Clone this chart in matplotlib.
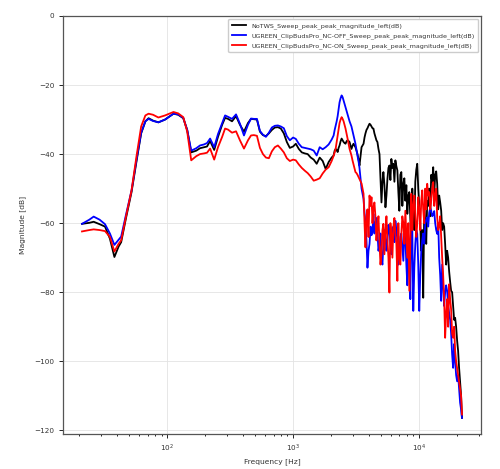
import numpy as np
import matplotlib
matplotlib.use('Agg')
import matplotlib.pyplot as plt

# frequency points [Hz] shared by the three measurements
freq_low = [21, 24, 26, 29, 32, 35, 38, 41, 43, 47, 52, 57, 62, 67, 71, 77, 85, 96,
            112, 122, 134, 144, 155, 170, 182, 196, 207, 219, 236, 253, 273, 288,
            304, 327, 352, 378, 407, 438, 463, 488, 516, 545, 576, 608, 642, 678,
            716, 757, 799, 844, 892, 942, 1000, 1051, 1110, 1172, 1238, 1306, 1381,
            1458, 1540, 1627, 1719, 1815, 1917, 2025]
freq_high = [2100, 2180, 2260, 2340, 2430, 2520, 2610, 2710, 2810, 2910, 3020, 3130,
             3250, 3370, 3500, 3630, 3760, 3900, 4050, 4200, 4350, 4510, 4680, 4860,
             5040, 5220, 5420, 5620, 5830, 6040, 6270, 6500, 6740, 6990, 7250, 7520,
             7800, 8090, 8390, 8700, 9020, 9360, 9700, 10060, 10440, 10820, 11230,
             11640, 12070, 12520, 12990, 13470, 13970, 14490, 15030, 15580, 16160,
             16760, 17390, 18030, 18700, 19400, 20120, 20860, 21640, 22000]
# extra points in between, the high end is very jagged
freq_mid = [2140, 2220, 2300, 2385, 2475, 2565, 2660, 2760, 2860, 2965, 3075, 3190,
            3310, 3435, 3565, 3695, 3830, 3975, 4125, 4275, 4430, 4595, 4770, 4950,
            5130, 5320, 5520, 5725, 5935, 6155, 6385, 6620, 6865, 7120, 7385, 7660,
            7945, 8240, 8545, 8860, 9190, 9530, 9880, 10250, 10630, 11025, 11435,
            11855, 12295, 12755, 13230, 13720, 14230, 14760, 15305, 15870, 16460,
            17075, 17710, 18365, 19050, 19760, 20490, 21250, 21820]

notws_low = [-60.2, -59.9, -59.6, -60.3, -61.0, -64.5, -69.8, -66.8, -65.5, -58.5,
             -51.0, -42.0, -34.0, -30.5, -29.6, -30.3, -30.8, -30.0, -28.3, -28.6,
             -29.6, -33.0, -39.5, -39.0, -38.3, -38.0, -37.8, -36.2, -38.8, -35.0,
             -31.5, -29.5, -29.8, -30.5, -29.0, -31.5, -33.5, -31.0, -29.8, -29.9,
             -30.0, -33.5, -34.5, -34.8, -34.0, -33.0, -32.3, -32.2, -32.6, -34.0,
             -36.5, -38.2, -37.8, -37.0, -38.5, -39.5, -39.8, -40.0, -41.0, -41.6,
             -42.8, -41.0, -42.0, -44.3, -42.3, -41.0]
notws_high = [-40.4, -38.5, -39.4, -37.5, -35.5, -36.5, -37.0, -36.0, -36.5, -38.5,
              -37.0, -38.0, -40.0, -43.3, -38.0, -37.0, -34.0, -32.5, -31.2, -32.0,
              -32.6, -35.0, -36.5, -40.0, -54.0, -45.2, -55.4, -47.2, -43.3, -41.4,
              -42.8, -41.8, -44.7, -56.4, -45.2, -48.6, -53.5, -57.3, -51.0, -66.0,
              -58.3, -48.0, -42.8, -55.0, -68.0, -81.6, -60.0, -53.5, -50.0, -46.0,
              -43.8, -46.0, -48.6, -52.0, -56.4, -60.0, -66.0, -68.0, -74.0, -79.6,
              -84.0, -87.4, -94.0, -101.9, -110.0, -116.4]
notws_mid = [-39.0, -38.8, -38.2, -36.3, -36.0, -36.8, -36.3, -36.2, -37.5, -37.6,
             -37.5, -39.0, -41.5, -40.5, -37.5, -35.2, -33.0, -31.8, -31.5, -32.5,
             -34.0, -36.0, -38.5, -47.0, -48.0, -49.0, -52.0, -44.0, -47.5, -44.0,
             -48.0, -43.5, -51.0, -46.0, -55.0, -47.0, -49.0, -52.0, -59.0, -50.0,
             -62.0, -44.5, -50.0, -60.0, -62.0, -55.0, -66.0, -55.0, -58.0, -48.0,
             -52.0, -45.0, -56.0, -54.0, -62.0, -61.0, -72.0, -70.0, -77.0, -80.0,
             -88.0, -90.0, -97.0, -106.0, -113.0]

nc_off_low = [-60.2, -59.0, -58.1, -59.0, -60.3, -63.0, -66.3, -64.8, -63.9, -57.5,
              -50.5, -41.5, -33.8, -30.5, -29.8, -30.4, -30.8, -30.0, -28.3, -28.5,
              -29.5, -33.0, -39.0, -38.3, -37.5, -37.2, -36.8, -35.5, -38.0, -34.2,
              -31.0, -28.8, -29.2, -29.8, -28.5, -31.2, -34.6, -31.5, -29.7, -29.8,
              -29.8, -33.3, -34.4, -35.0, -33.8, -32.3, -31.8, -31.7, -32.0, -32.5,
              -34.8, -36.0, -35.2, -35.6, -37.0, -38.0, -38.2, -38.4, -38.6, -39.0,
              -40.4, -38.0, -38.6, -38.0, -37.2, -35.8]
nc_off_high = [-34.6, -31.7, -29.0, -25.0, -23.0, -24.5, -26.5, -28.5, -30.5, -32.0,
               -34.6, -37.0, -40.5, -44.0, -50.0, -53.0, -60.0, -72.9, -66.0, -63.5,
               -57.3, -60.0, -62.5, -66.0, -70.5, -66.0, -64.0, -65.0, -62.0, -69.0,
               -61.0, -59.3, -65.0, -68.0, -63.0, -70.9, -64.0, -78.0, -72.0, -59.3,
               -85.4, -66.0, -63.1, -85.4, -68.0, -63.0, -60.0, -58.3, -57.0, -56.4,
               -57.5, -60.0, -63.1, -70.0, -82.5, -78.0, -80.0, -79.6, -86.0, -92.0,
               -101.9, -100.0, -105.8, -108.0, -114.0, -116.4]
nc_off_mid = [-33.0, -30.5, -27.0, -23.8, -23.5, -25.5, -27.5, -29.5, -31.3, -33.3,
              -35.8, -38.8, -42.0, -47.0, -51.5, -57.0, -65.0, -68.0, -61.0, -62.0,
              -63.0, -58.5, -68.0, -63.0, -72.0, -62.0, -68.0, -60.5, -66.0, -62.5,
              -65.5, -62.0, -72.0, -64.0, -67.0, -62.0, -72.0, -66.0, -82.0, -62.0,
              -73.0, -62.0, -72.0, -75.0, -65.0, -66.0, -59.0, -61.0, -55.5, -58.0,
              -56.5, -62.0, -60.0, -75.0, -72.0, -84.0, -78.0, -84.0, -88.0, -98.0,
              -95.0, -104.0, -104.0, -112.0, -115.5]

nc_on_low = [-62.4, -62.0, -61.8, -62.0, -62.3, -64.0, -68.2, -66.0, -65.0, -58.0,
             -50.5, -40.5, -32.0, -28.8, -28.3, -28.6, -29.4, -28.8, -27.8, -28.2,
             -29.3, -33.5, -41.8, -40.6, -40.0, -39.8, -39.6, -38.4, -41.6, -38.0,
             -35.0, -32.6, -32.9, -33.8, -33.4, -36.0, -38.4, -36.0, -34.6, -34.5,
             -34.7, -38.2, -40.0, -41.0, -41.2, -39.2, -38.0, -37.5, -38.4, -39.5,
             -41.2, -42.0, -41.6, -41.8, -43.0, -44.0, -44.8, -45.5, -46.5, -47.7,
             -47.4, -47.0, -45.6, -44.5, -43.8, -42.0]
nc_on_high = [-40.5, -38.4, -34.5, -31.0, -29.3, -30.5, -32.6, -35.5, -38.5, -40.4,
              -43.0, -45.2, -46.0, -47.2, -48.5, -51.5, -67.0, -56.0, -52.0, -52.5,
              -55.4, -58.0, -61.2, -66.0, -69.0, -60.2, -62.0, -65.0, -80.1, -63.1,
              -61.0, -63.1, -76.7, -70.0, -63.1, -60.0, -56.4, -70.0, -79.6, -51.5,
              -55.0, -58.0, -60.2, -56.0, -53.5, -56.0, -50.0, -48.6, -51.0, -53.5,
              -48.1, -52.0, -58.3, -61.0, -64.1, -75.0, -93.2, -82.0, -77.7, -85.0,
              -93.2, -97.0, -101.9, -106.0, -110.0, -115.4]
nc_on_mid = [-39.5, -36.5, -32.8, -30.0, -29.8, -31.5, -34.0, -37.0, -39.5, -41.8,
             -44.2, -45.5, -46.6, -47.8, -50.0, -60.0, -58.0, -64.0, -55.0, -60.0,
             -54.0, -65.0, -58.0, -72.0, -62.0, -69.0, -58.0, -70.0, -60.0, -70.0,
             -58.5, -66.0, -60.0, -72.0, -58.0, -66.0, -63.0, -60.0, -66.0, -62.0,
             -52.0, -64.0, -52.5, -62.0, -50.5, -60.0, -56.0, -52.0, -56.0, -50.0,
             -55.0, -50.0, -62.0, -58.0, -70.0, -82.0, -86.0, -90.0, -82.0, -92.0,
             -90.0, -100.0, -104.0, -108.0, -113.0]

labels = ['NoTWS_Sweep_peak_peak_magnitude_left(dB)',
          'UGREEN_ClipBudsPro_NC-OFF_Sweep_peak_peak_magnitude_left(dB)',
          'UGREEN_ClipBudsPro_NC-ON_Sweep_peak_peak_magnitude_left(dB)']
colors = ['black', 'blue', 'red']


def join(low, high, mid):
    f = np.array(freq_low + freq_high + freq_mid, dtype=float)
    v = np.array(low + high + mid, dtype=float)
    order = np.argsort(f)
    return f[order], v[order]


curves = [join(notws_low, notws_high, notws_mid),
          join(nc_off_low, nc_off_high, nc_off_mid),
          join(nc_on_low, nc_on_high, nc_on_mid)]

fig = plt.figure(figsize=(5.0, 4.69), dpi=100)
ax = fig.add_axes([0.126, 0.0746, 0.836, 0.8913])

for (f, v), col, lab in zip(curves, colors, labels):
    ax.semilogx(f, v, color=col, lw=1.3, label=lab)

ax.set_ylim(top=0)
ax.grid(True, which='major', color='#e3e3e3', lw=0.6)
ax.set_xlabel('Frequency [Hz]', fontsize=5.4, color='#333333', labelpad=3)
ax.set_ylabel('Magnitude [dB]', fontsize=5.4, color='#333333', labelpad=6)
ax.tick_params(which='both', labelsize=5.2, labelcolor='#333333', width=0.6)
ax.tick_params(which='major', length=2.8)
ax.tick_params(which='minor', length=1.6)
for sp in ax.spines.values():
    sp.set_color('#555555')
    sp.set_linewidth(0.9)

leg = ax.legend(loc='upper right', fontsize=4.6, handlelength=2.2,
                labelspacing=0.6, borderpad=0.6,
                borderaxespad=0.4, framealpha=1.0, edgecolor='#cccccc')
for t in leg.get_texts():
    t.set_color('#333333')

fig.savefig('out.png', dpi=100)
